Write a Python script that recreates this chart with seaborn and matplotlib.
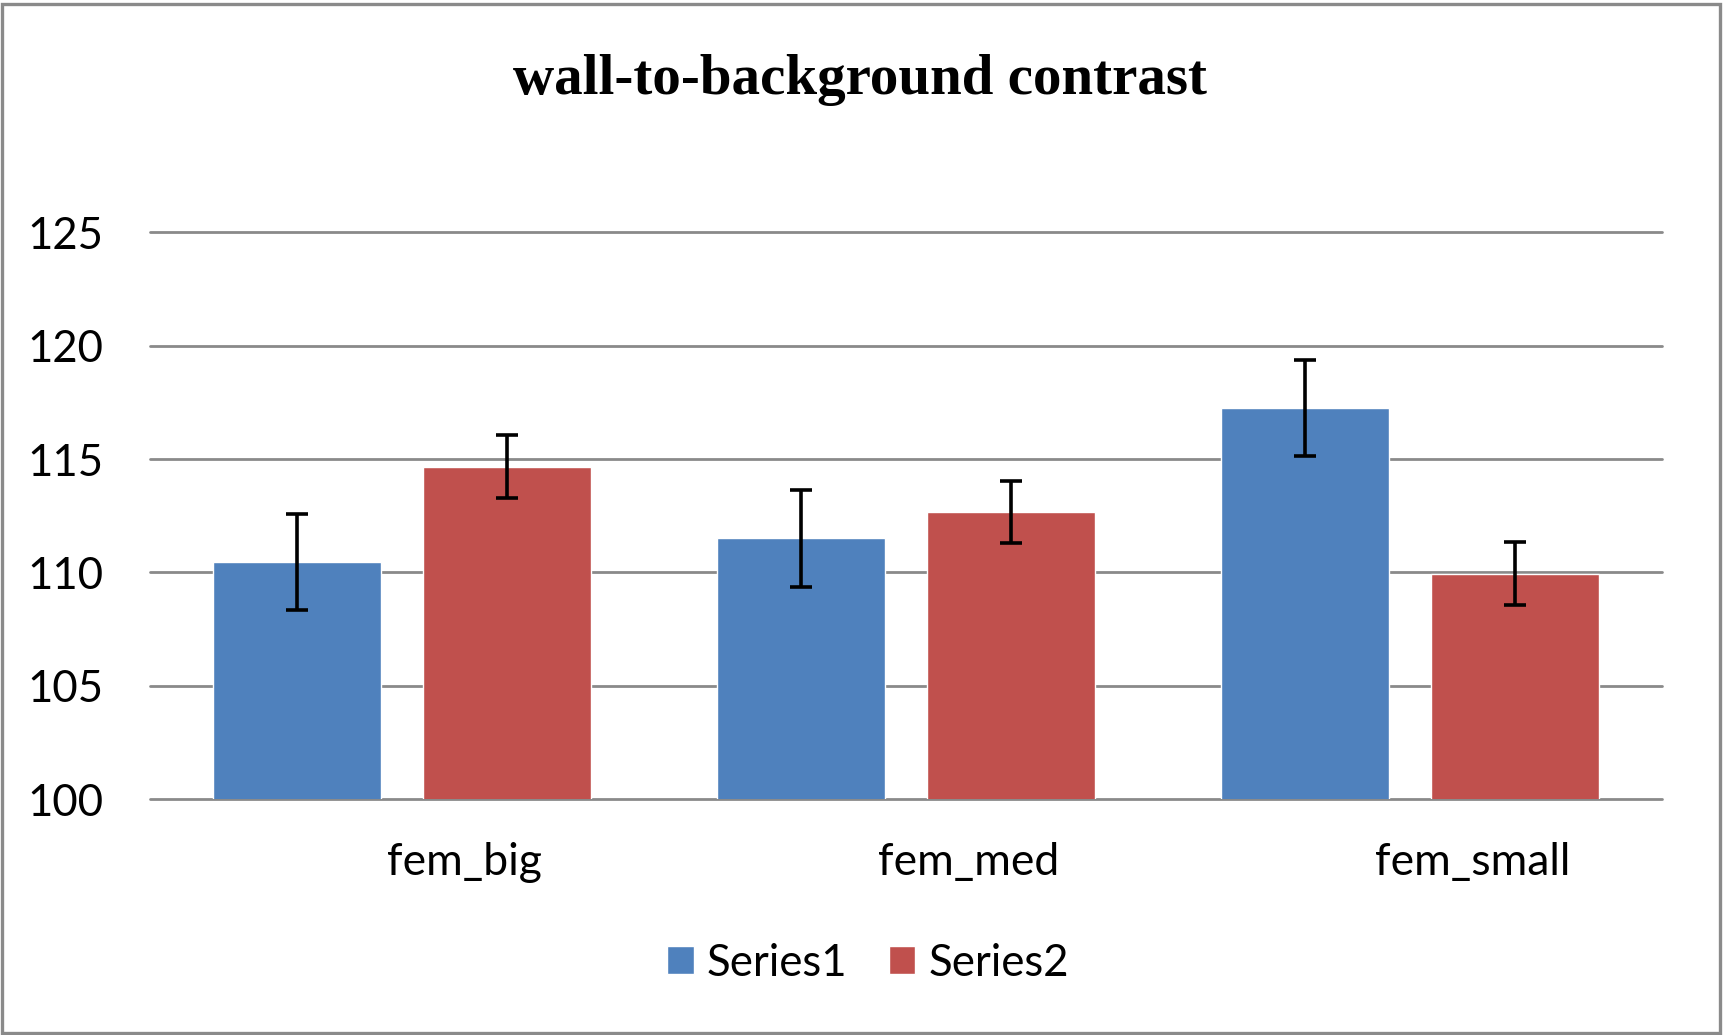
import matplotlib
matplotlib.use("Agg")
import matplotlib.pyplot as plt
from matplotlib.patches import Rectangle
import pandas as pd
import seaborn as sns

# chart data
categories = ["fem_big", "fem_med", "fem_small"]
series_names = ["Series1", "Series2"]
series1 = [110.45, 111.5, 117.24]
series2 = [114.67, 112.66, 109.94]
series1_err = [2.12, 2.13, 2.12]
series2_err = [1.38, 1.38, 1.38]
y_ticks = [100, 105, 110, 115, 120, 125]
title = "wall-to-background contrast"

colors = ["#4F81BD", "#C0504D"]
grid_gray = "#8A8A8A"

sns.set_style("white")
plt.rcParams['font.family'] = ['Lato', 'DejaVu Sans']
plt.rcParams['text.color'] = 'black'
plt.rcParams['xtick.color'] = 'black'
plt.rcParams['ytick.color'] = 'black'

df = pd.DataFrame({
    "condition": categories * 2,
    "value": series1 + series2,
    "series": [series_names[0]] * 3 + [series_names[1]] * 3,
})

W, H = 1723, 1035
fig = plt.figure(figsize=(W / 100, H / 100), dpi=100)
ax = fig.add_axes([149.5 / W, 1 - 799 / H, (1662 - 149.5) / W, (799 - 232.4) / H])

sns.barplot(
    data=df, x="condition", y="value", hue="series",
    palette=colors, width=0.833, gap=0.2, errorbar=None,
    saturation=1, ax=ax, zorder=2,
)

# error bars on top of each bar
for cont, errs in zip(ax.containers, [series1_err, series2_err]):
    xs = [p.get_x() + p.get_width() / 2 for p in cont]
    ys = [p.get_height() for p in cont]
    ax.errorbar(xs, ys, yerr=errs, fmt="none", ecolor="black",
                elinewidth=2.6, capsize=7.8, capthick=2.6, zorder=3)

ax.set_ylim(100, 125)
ax.set_xlim(-0.5, 2.5)
ax.set_yticks(y_ticks)
ax.set_xticks([i + 0.125 for i in range(len(categories))])
ax.set_xticklabels(categories)
ax.set_xlabel("")
ax.set_ylabel("")
ax.tick_params(axis="y", length=0, pad=33, labelsize=31.5)
ax.tick_params(axis="x", length=0, pad=31, labelsize=32)

ax.set_axisbelow(True)
ax.yaxis.grid(True, color=grid_gray, linewidth=2.0)
for line in ax.get_ygridlines():
    line.set_clip_on(False)
for s in ax.spines.values():
    s.set_visible(False)

handles, labels = ax.get_legend_handles_labels()
ax.legend(handles, labels, loc="center", ncol=2, frameon=False,
          bbox_to_anchor=(868 / W, 1 - 963 / H), bbox_transform=fig.transFigure,
          fontsize=31.5, handlelength=0.6, handleheight=0.6,
          handletextpad=0.3, columnspacing=0.95)

fig.text(860 / W, 1 - 80 / H, title, ha="center", va="center",
         family="Liberation Serif", weight="bold", fontsize=41, color="black")

# outer frame of the chart
fig.patches.append(Rectangle((2 / W, 2 / H), 1 - 5 / W, 1 - 6 / H,
                             transform=fig.transFigure, fill=False,
                             edgecolor=grid_gray, linewidth=2.4))

fig.savefig("out.png", dpi=100)
